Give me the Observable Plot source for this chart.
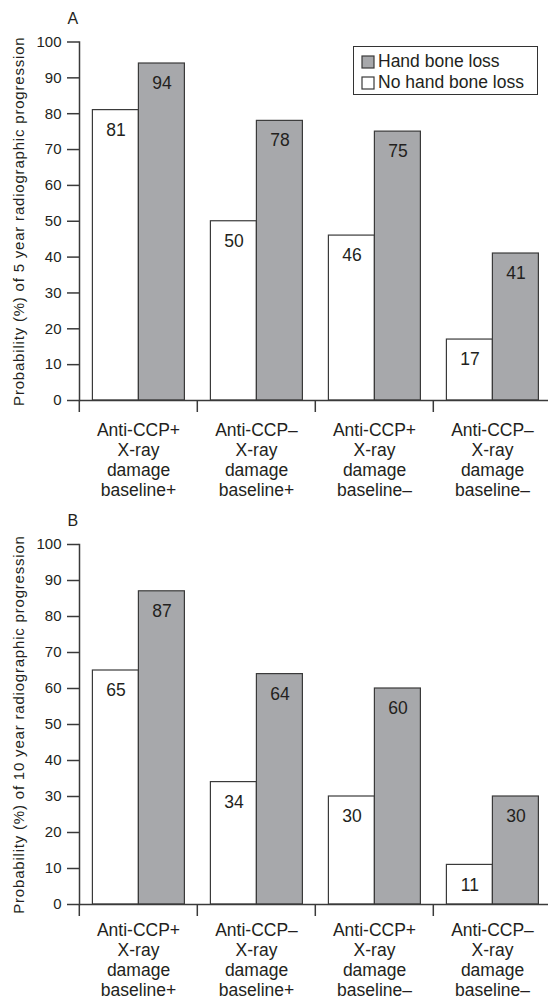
<!DOCTYPE html>
<html><head><meta charset="utf-8">
<script src="https://cdn.jsdelivr.net/npm/d3@7"></script>
<script src="https://cdn.jsdelivr.net/npm/@observablehq/plot@0.6"></script>
<style>
body{margin:0;background:#fff;font-family:"Liberation Sans",Arial,sans-serif;}
#wrap{position:relative;width:548px;height:1001px;overflow:hidden}
#wrap svg{display:block;overflow:visible}
[aria-label="y-axis label"] text{letter-spacing:0.8px}
#legendBox{position:absolute;left:353px;top:46px;width:185px;height:49px;box-sizing:border-box;border:1.5px solid #333;background:#fff;padding:4px 0 0 8px}
</style>
</head><body>
<div id="wrap"><div id="legendBox"></div></div>
<script>
const groups = [
  "Anti-CCP+\nX-ray\ndamage\nbaseline+",
  "Anti-CCP–\nX-ray\ndamage\nbaseline+",
  "Anti-CCP+\nX-ray\ndamage\nbaseline–",
  "Anti-CCP–\nX-ray\ndamage\nbaseline–"
];
const series = ["No hand bone loss", "Hand bone loss"];
const legendOrder = ["Hand bone loss", "No hand bone loss"];
const noLoss5 = [81, 50, 46, 17];
const loss5 = [94, 78, 75, 41];
const noLoss10 = [65, 34, 30, 11];
const loss10 = [87, 64, 60, 30];
const yTicks = [0, 10, 20, 30, 40, 50, 60, 70, 80, 90, 100];
const panelLetters = ["A", "B"];
const yLabels = [
  "Probability (%) of 5 year radiographic progression",
  "Probability (%) of 10 year radiographic progression"
];

const WHITE = "#ffffff", GRAY = "#a7a8ab", INK = "#231f20", LINE = "#3a3a3a";

function panel(noLoss, loss, letter, ylabel, height, mt, mb, labelPad) {
  const data = groups.flatMap((g, i) => [
    {group: g, series: series[0], value: noLoss[i]},
    {group: g, series: series[1], value: loss[i]}
  ]);
  return Plot.plot({
    width: 548, height, marginTop: mt, marginBottom: mb, marginLeft: 78.6, marginRight: -4,
    style: {fontFamily: "'Liberation Sans', Arial, sans-serif", color: INK, background: "transparent"},
    fx: {domain: groups, padding: 0},
    x: {domain: series, paddingInner: 0, paddingOuter: 0.273, axis: null},
    y: {domain: [0, 100]},
    color: {domain: series, range: [WHITE, GRAY]},
    marks: [
      Plot.barY(data, {fx: "group", x: "series", y: "value", fill: "series", stroke: LINE, strokeWidth: 1.2}),
      Plot.text(data, {fx: "group", x: "series", y: "value", text: d => String(d.value), dy: 20, fontSize: 17.5, fill: INK}),
      Plot.ruleY([0], {stroke: LINE, strokeWidth: 1.5}),
      Plot.frame({anchor: "left", facetAnchor: "left", stroke: LINE, strokeWidth: 1.5}),
      Plot.axisY({ticks: yTicks, tickSize: 12, tickPadding: 6, fontSize: 15, stroke: LINE, strokeWidth: 1.5,
        label: ylabel, labelAnchor: "center", labelArrow: false, labelOffset: 66}),
      Plot.axisFx({anchor: "bottom", tickSize: 12, text: null, dx: -59.2, stroke: LINE, strokeWidth: 1.5, label: null}),
      Plot.axisFx({anchor: "bottom", tickSize: 0, tickPadding: labelPad, fontSize: 17.5, lineHeight: 1.143, label: null}),
      Plot.text([letter], {fx: [groups[0]], text: d => d, frameAnchor: "top-left", dx: -12, dy: -23.5,
        lineAnchor: "middle", textAnchor: "start", fontSize: 16, fill: INK})
    ]
  });
}

const wrap = document.getElementById("wrap");
wrap.appendChild(panel(noLoss5, loss5, panelLetters[0], yLabels[0], 500, 41.5, 100, 21));
wrap.appendChild(panel(noLoss10, loss10, panelLetters[1], yLabels[1], 501, 44, 97, 17));

const leg = Plot.legend({
  color: {domain: legendOrder, range: [GRAY, WHITE]},
  legend: "swatches", columns: 1, swatchSize: 12, className: "lg",
  style: {fontSize: "17.5px", fontFamily: "'Liberation Sans', Arial, sans-serif", color: INK, margin: 0}
});
document.getElementById("legendBox").appendChild(leg);
</script>
<style>
.lg-swatch{line-height:21px;margin:0 !important;padding:0 !important;height:21px;display:flex;align-items:center}
.lg-swatch svg{overflow:visible;margin-right:4px !important}
.lg-swatch svg rect{stroke:#3a3a3a;stroke-width:1.2px}
</style>
</body></html>
